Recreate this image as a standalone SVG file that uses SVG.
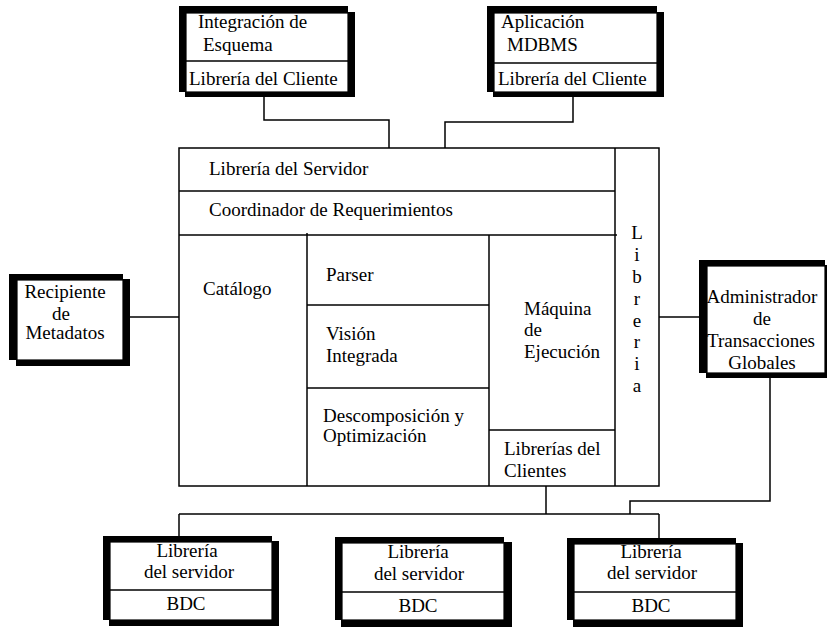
<svg xmlns="http://www.w3.org/2000/svg" width="827" height="627" viewBox="0 0 827 627">
<style>
text{font-family:"Liberation Serif","Times New Roman",serif;font-size:19px;fill:#000}
.m{text-anchor:middle}
.ln{fill:none;stroke:#000;stroke-width:1.5}
.blk{fill:#000}
.in{fill:#fff;stroke:#000;stroke-width:1.2}
</style>
<rect width="827" height="627" fill="#fff"/>
<g id="connectors" class="ln">
<polyline points="264,97 264,120 389,120 389,148"/>
<polyline points="573,97 573,122 445,122 445,148"/>
<line x1="130" y1="317" x2="179" y2="317"/>
<line x1="659" y1="317" x2="699" y2="317"/>
<polyline points="770,378 770,501 630,501 630,514"/>
<line x1="546" y1="486" x2="546" y2="514"/>
<line x1="179" y1="514" x2="659" y2="514"/>
<line x1="179" y1="514" x2="179" y2="536"/>
<line x1="659" y1="514" x2="659" y2="538"/>
</g>
<g id="main">
<g class="ln">
<rect x="179" y="148" width="480" height="338"/>
<line x1="615" y1="148" x2="615" y2="486"/>
<line x1="179" y1="191" x2="615" y2="191"/>
<line x1="179" y1="235" x2="617" y2="235"/>
<line x1="307" y1="233" x2="307" y2="486"/>
<line x1="489" y1="235" x2="489" y2="486"/>
<line x1="307" y1="305" x2="489" y2="305"/>
<line x1="307" y1="388" x2="489" y2="388"/>
<line x1="489" y1="430" x2="615" y2="430"/>
</g>
<text x="209" y="175">Librería del Servidor</text>
<text x="209" y="216">Coordinador de Requerimientos</text>
<text x="203" y="295">Catálogo</text>
<text x="326" y="281">Parser</text>
<text x="326" y="340">Visión</text>
<text x="326" y="362">Integrada</text>
<text x="323" y="422">Descomposición y</text>
<text x="323" y="442">Optimización</text>
<text x="524" y="315">Máquina</text>
<text x="524" y="336">de</text>
<text x="524" y="358">Ejecución</text>
<text x="504" y="455">Librerías del</text>
<text x="504" y="477">Clientes</text>
<g class="m">
<text x="637" y="239">L</text>
<text x="637" y="261">i</text>
<text x="637" y="283">b</text>
<text x="637" y="305">r</text>
<text x="637" y="327">e</text>
<text x="637" y="348">r</text>
<text x="637" y="370">i</text>
<text x="637" y="392">a</text>
</g>
</g>
<g id="integracion">
<rect class="blk" x="179" y="6" width="169" height="86"/>
<rect class="blk" x="185" y="12" width="170" height="85"/>
<rect class="in" x="186" y="13" width="162" height="79"/>
<line class="ln" x1="186" y1="61" x2="348" y2="61"/>
<text x="198" y="28">Integración de</text>
<text x="203" y="51">Esquema</text>
<text x="189" y="85">Librería del Cliente</text>
</g>
<g id="aplicacion">
<rect class="blk" x="487" y="6" width="170" height="86"/>
<rect class="blk" x="493" y="12" width="171" height="85"/>
<rect class="in" x="494" y="13" width="163" height="79"/>
<line class="ln" x1="494" y1="63" x2="657" y2="63"/>
<text x="501" y="28">Aplicación</text>
<text x="507" y="51">MDBMS</text>
<text x="498" y="85">Librería del Cliente</text>
</g>
<g id="recipiente">
<rect class="blk" x="9" y="274" width="114" height="86"/>
<rect class="blk" x="16" y="279" width="114" height="87"/>
<rect class="in" x="17" y="280" width="106" height="80"/>
<text class="m" x="65" y="298">Recipiente</text>
<text class="m" x="61" y="320">de</text>
<text class="m" x="65" y="339">Metadatos</text>
</g>
<g id="administrador">
<rect class="blk" x="699" y="260" width="126" height="113"/>
<rect class="blk" x="706" y="265" width="124" height="113"/>
<rect class="in" x="707" y="266" width="118" height="107"/>
<text class="m" x="762" y="303">Administrador</text>
<text class="m" x="762" y="325">de</text>
<text class="m" x="761" y="347">Transacciones</text>
<text class="m" x="762" y="369">Globales</text>
</g>
<g id="bdc1">
<rect class="blk" x="103" y="536" width="169" height="84"/>
<rect class="blk" x="109" y="541" width="170" height="85"/>
<rect class="in" x="110" y="542" width="162" height="78"/>
<line class="ln" x1="110" y1="590" x2="272" y2="590"/>
<text class="m" x="187" y="557">Librería</text>
<text class="m" x="189" y="578">del servidor</text>
<text class="m" x="186" y="610">BDC</text>
</g>
<g id="bdc2">
<rect class="blk" x="335" y="537" width="169" height="83"/>
<rect class="blk" x="341" y="542" width="171" height="85"/>
<rect class="in" x="342" y="543" width="162" height="77"/>
<line class="ln" x1="342" y1="592" x2="504" y2="592"/>
<text class="m" x="418" y="558">Librería</text>
<text class="m" x="419" y="580">del servidor</text>
<text class="m" x="418" y="612">BDC</text>
</g>
<g id="bdc3">
<rect class="blk" x="567" y="538" width="169" height="82"/>
<rect class="blk" x="573" y="543" width="170" height="84"/>
<rect class="in" x="574" y="544" width="162" height="76"/>
<line class="ln" x1="574" y1="592" x2="736" y2="592"/>
<text class="m" x="651" y="558">Librería</text>
<text class="m" x="652" y="579">del servidor</text>
<text class="m" x="651" y="612">BDC</text>
</g>
</svg>
